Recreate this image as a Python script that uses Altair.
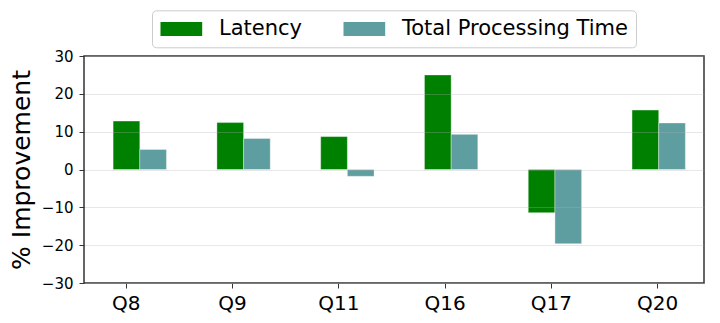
import altair as alt
import pandas as pd

queries = ["Q8", "Q9", "Q11", "Q16", "Q17", "Q20"]
series = ["Latency", "Total Processing Time"]
latency = [12.8, 12.4, 8.7, 25.0, -11.4, 15.7]
total_processing = [5.3, 8.2, -1.8, 9.3, -19.6, 12.3]
colors = ["#008000", "#5f9ea0"]
y_ticks = [-30, -20, -10, 0, 10, 20, 30]

df = pd.DataFrame({
    "Query": queries * 2,
    "Series": [series[0]] * len(queries) + [series[1]] * len(queries),
    "Value": latency + total_processing,
})

FONT = "DejaVu Sans"

bars = alt.Chart(df).mark_bar(stroke="white", strokeOpacity=0.35, strokeWidth=1).encode(
    x=alt.X("Query:N", sort=queries,
            scale=alt.Scale(paddingInner=0.486, paddingOuter=0.23, align=0.61),
            axis=None),
    xOffset=alt.XOffset("Series:N", sort=series,
                        scale=alt.Scale(paddingInner=0, paddingOuter=0)),
    y=alt.Y("Value:Q", scale=alt.Scale(domain=[-30, 30], nice=False),
            axis=alt.Axis(values=y_ticks, title="% Improvement", grid=True,
                          gridColor="#b0b0b0", gridOpacity=0.3, gridWidth=1,
                          domain=False, ticks=True, tickSize=5, tickColor="#333333",
                          labelFontSize=15, labelColor="black", labelPadding=6,
                          labelFont=FONT, zindex=1,
                          titleFont=FONT, titleFontSize=25, titleFontWeight="normal",
                          titleColor="black", titleX=-55, titleY=113.5,
                          titleAngle=270, titleAlign="center",
                          titleBaseline="alphabetic")),
    color=alt.Color("Series:N", sort=series,
                    scale=alt.Scale(domain=series, range=colors),
                    legend=alt.Legend(title=None, orient="none", direction="horizontal",
                                      legendX=68, legendY=-45.7,
                                      symbolType="M-1.43,-1H4.527V1H-1.43Z",
                                      symbolSize=196, symbolStrokeWidth=0,
                                      symbolOpacity=1,
                                      labelFont=FONT, labelFontSize=21,
                                      labelColor="black", labelOffset=38,
                                      labelLimit=0,
                                      columnPadding=40, padding=8,
                                      strokeColor="#cccccc", cornerRadius=4,
                                      fillColor="white")),
)

axis_layer = alt.Chart(pd.DataFrame({"Query": queries})).mark_point(opacity=0).encode(
    x=alt.X("Query:N", sort=queries,
            scale=alt.Scale(type="point", padding=0.4165, align=0.471),
            axis=alt.Axis(title=None, orient="bottom", domain=False, grid=False,
                          ticks=True, tickSize=5, tickColor="#333333",
                          labelAngle=0, labelFont=FONT, labelFontSize=20,
                          labelColor="black", labelBaseline="alphabetic",
                          labelPadding=21.3)),
)

chart = alt.layer(bars, axis_layer).resolve_scale(x="independent").properties(
    width=620, height=227,
    autosize=alt.AutoSizeParams(type="none"),
    padding={"left": 76, "top": 48, "right": 8, "bottom": 32},
).configure_view(stroke="#333333", strokeWidth=1.5)

chart.save("out.html", embed_options={"renderer": "svg", "actions": False})
